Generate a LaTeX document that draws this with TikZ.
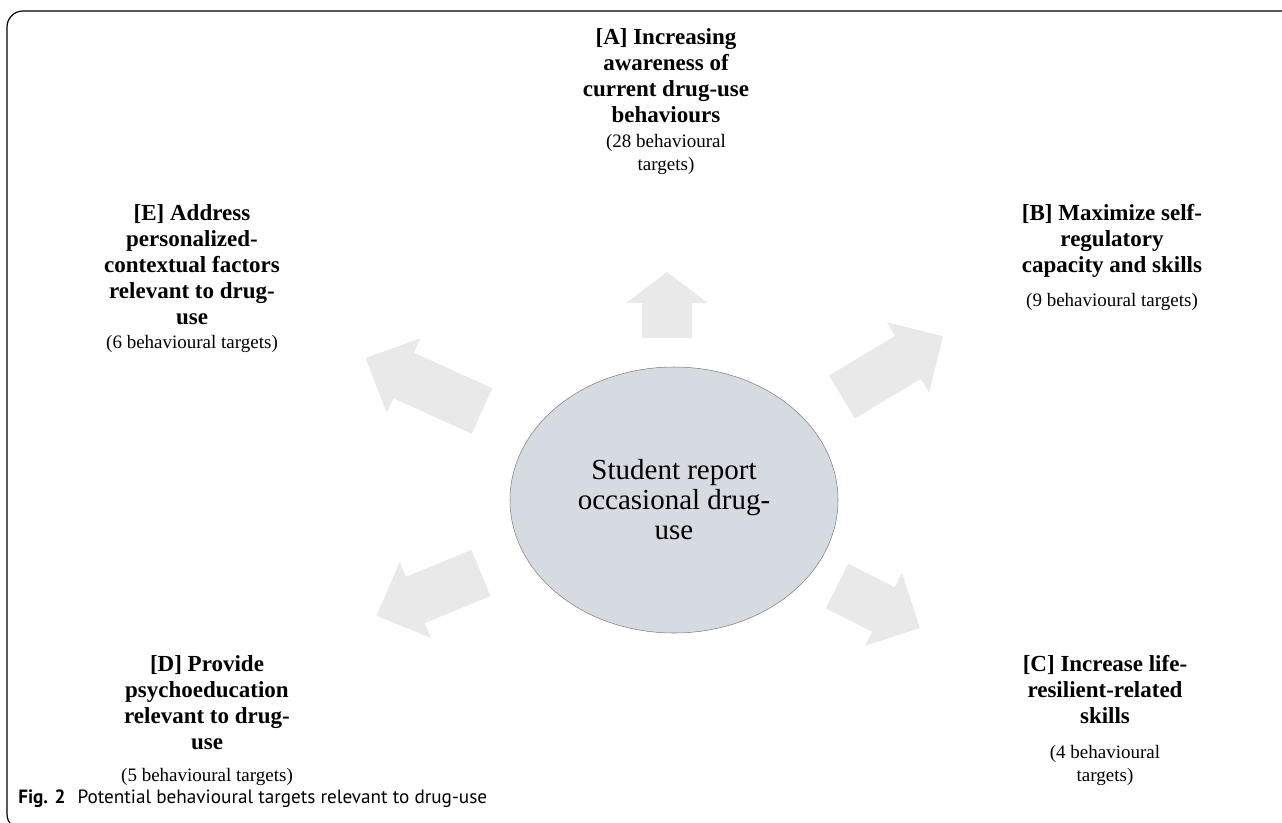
\documentclass[tikz,border=0pt]{standalone}
\usepackage{fontspec}
\setmainfont{Liberation Serif}
\newfontfamily\capfont{PT Sans}
\usetikzlibrary{shapes.geometric}
\definecolor{bubble}{RGB}{214,219,226}
\definecolor{rim}{RGB}{128,128,128}
\definecolor{arrowgrey}{RGB}{233,233,233}
\tikzset{
  goal/.style={font=\fontsize{17.25}{19.5}\selectfont\bfseries, align=center, inner sep=0pt, anchor=north},
  goalcount/.style={font=\fontsize{14.25}{17.25}\selectfont, align=center, inner sep=0pt, anchor=north},
  bigarrow/.style={fill=arrowgrey, draw=none}
}
% tail x, tail y, angle, length, head length
\newcommand{\blockarrow}[5]{%
  \fill[bigarrow, shift={(#1,#2)}, rotate=#3] (0,-25) -- ({#4-#5},-25) -- ({#4-#5},-41) -- (#4,0)
    -- ({#4-#5},41) -- ({#4-#5},25) -- (0,25) -- cycle;}
\begin{document}
\begin{tikzpicture}[x=0.75pt, y=-0.75pt]
  \useasboundingbox (0,0) rectangle (1282,822);
  \clip (0,0) rectangle (1282,822);
  \draw[line width=0.9pt, rounded corners=12] (1300,11) -- (7,11) -- (7,830) -- (1300,830);

  \blockarrow{667}{338}{90}{66}{31}
  \blockarrow{842}{397}{31}{118}{41}
  \blockarrow{837}{586}{-26.8}{93}{41}
  \blockarrow{481}{573}{202.3}{113}{42}
  \blockarrow{482}{411}{155.6}{128}{42}

  \node[ellipse, draw=rim, fill=bubble, minimum width=246pt, minimum height=199.5pt, inner sep=0pt,
        align=center, font=\fontsize{21.75}{22.5}\selectfont] (S) at (674,500)
        {Student report\\occasional drug-\\use};

  \node[goal] (A) at (666,28) {[A] Increasing\\awareness of\\current drug-use\\behaviours};
  \node[goalcount] (An) at (666,134) {(28 behavioural\\targets)};

  \node[goal] (B) at (1112,204) {[B] Maximize self-\\regulatory\\capacity and skills};
  \node[goalcount] (Bn) at (1112,293) {(9 behavioural targets)};

  \node[goal] (C) at (1105,655) {[C] Increase life-\\resilient-related\\skills};
  \node[goalcount] (Cn) at (1105,745) {(4 behavioural\\targets)};

  \node[goal] (D) at (207,655) {[D] Provide\\psychoeducation\\relevant to drug-\\use};
  \node[goalcount] (Dn) at (207,768) {(5 behavioural targets)};

  \node[goal] (E) at (192,204) {[E] Address\\personalized-\\contextual factors\\relevant to drug-\\use};
  \node[goalcount] (En) at (192,335) {(6 behavioural targets)};

  \node[anchor=base west, inner sep=0pt, font=\capfont\fontsize{14.4}{17}\selectfont] (cap) at (18,803)
    {\textbf{Fig. 2}\hspace{9pt}Potential behavioural targets relevant to drug-use};
\end{tikzpicture}
\end{document}
